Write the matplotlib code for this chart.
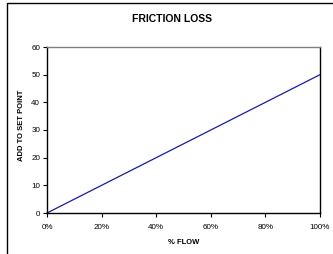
#!/usr/bin/env python3
"""
Friction loss chart: added set point vs % flow
"""
import matplotlib.patches as patches
import matplotlib.pyplot as plt
from matplotlib.ticker import PercentFormatter

# Data
flow = [0.0, 0.2, 0.4, 0.6, 0.8, 1.0]
add_to_set_point = [0, 10, 20, 30, 40, 50]
y_ticks = [0, 10, 20, 30, 40, 50, 60]
x_ticks = [0.0, 0.2, 0.4, 0.6, 0.8, 1.0]

# Constants
W, H = 333, 254
DPI = 100
FONT = "Liberation Sans"
LINE_COLOR = "#1a1aa0"

plt.rcParams["font.family"] = [FONT, "DejaVu Sans"]

fig = plt.figure(figsize=(W / DPI, H / DPI), dpi=DPI)
fig.patch.set_facecolor("white")

# outer chart frame (runs off the right/bottom of the picture)
frame = patches.Rectangle(
    (6.5 / W, -0.1),
    1.2,
    (H - 3.5) / H + 0.1,
    transform=fig.transFigure,
    fill=False,
    edgecolor="black",
    linewidth=1.0,
)
fig.add_artist(frame)

left, right, top, bottom = 47, 320, 47, 213
ax = fig.add_axes([left / W, 1 - bottom / H, (right - left) / W, (bottom - top) / H])

ax.plot(flow, add_to_set_point, color=LINE_COLOR, linewidth=0.9, clip_on=False)

ax.set_xlim(0, 1)
ax.set_ylim(0, 60)
ax.set_xticks(x_ticks)
ax.set_yticks(y_ticks)
ax.xaxis.set_major_formatter(PercentFormatter(1.0, decimals=0))

for side in ("left", "bottom", "right"):
    ax.spines[side].set_color("black")
    ax.spines[side].set_linewidth(1.0)
ax.spines["top"].set_color("#808080")
ax.spines["top"].set_linewidth(1.0)

ax.tick_params(axis="both", direction="out", length=3, width=0.8,
               labelsize=5.8, colors="black", pad=2)
ax.tick_params(axis="x", pad=5)

ax.set_xlabel("% FLOW", fontsize=5.5, fontweight="bold", labelpad=6)

fig.text(22 / W, 1 - 125 / H, "ADD TO SET POINT", rotation=90,
         ha="center", va="center", fontsize=5.5, fontweight="bold")
fig.text(171.5 / W, 1 - 18.5 / H, "FRICTION LOSS", ha="center", va="center",
         fontsize=7.5, fontweight="bold")

fig.savefig("out.png", dpi=DPI)
